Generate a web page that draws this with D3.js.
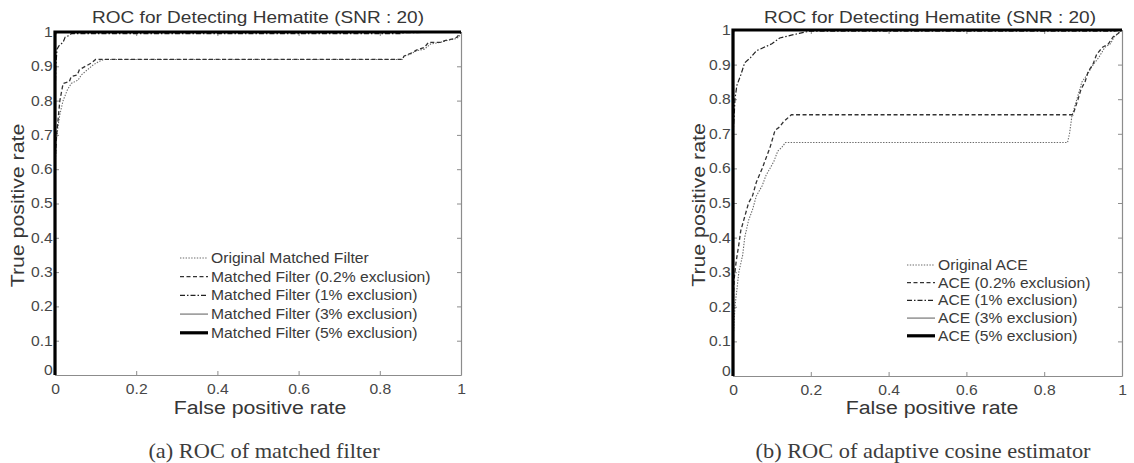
<!DOCTYPE html>
<html>
<head>
<meta charset="utf-8">
<script src="https://cdn.jsdelivr.net/npm/d3@7"></script>
<style>
  body { margin: 0; background: #fff; }
  svg { display: block; font-family: "Liberation Sans", Arial, sans-serif; }
</style>
</head>
<body>
<svg id="chart" width="1134" height="463"></svg>
<script>
// ---- data (fpr, tpr) ----
const xTicks = [0, 0.2, 0.4, 0.6, 0.8, 1];
const yTicks = [0, 0.1, 0.2, 0.3, 0.4, 0.5, 0.6, 0.7, 0.8, 0.9, 1];
const chartTitle = "ROC for Detecting Hematite (SNR : 20)";

const mfLabels = ["Original Matched Filter", "Matched Filter (0.2% exclusion)", "Matched Filter (1% exclusion)",
                  "Matched Filter (3% exclusion)", "Matched Filter (5% exclusion)"];
const mfOriginal = [[0,0],[0,0.6],[0.003,0.68],[0.008,0.73],[0.012,0.76],[0.02,0.8],[0.03,0.83],[0.04,0.85],[0.057,0.86],
  [0.065,0.875],[0.08,0.89],[0.095,0.905],[0.11,0.915],[0.12,0.92],[0.855,0.92],[0.86,0.93],[0.875,0.935],[0.89,0.945],
  [0.91,0.95],[0.925,0.965],[0.95,0.97],[0.965,0.975],[0.985,0.98],[0.995,0.985],[1,1]];
const mf02 = [[0,0],[0,0.62],[0.004,0.7],[0.008,0.75],[0.012,0.8],[0.02,0.85],[0.035,0.855],[0.04,0.87],[0.055,0.875],
  [0.06,0.89],[0.075,0.9],[0.09,0.91],[0.1,0.92],[0.855,0.92],[0.86,0.93],[0.87,0.935],[0.88,0.94],[0.89,0.947],
  [0.91,0.955],[0.92,0.97],[0.95,0.97],[0.96,0.975],[0.98,0.98],[0.99,0.985],[1,1]];
const mf1 = [[0,0],[0,0.8],[0.002,0.9],[0.005,0.95],[0.01,0.96],[0.02,0.97],[0.025,0.985],[0.035,0.99],[0.04,0.995],
  [0.85,0.995],[0.86,0.998],[1,1]];
const mf3 = [[0,0],[0,0.99],[0.005,1],[1,1]];
const mf5 = [[0,0],[0,1],[1,1]];

const aceLabels = ["Original ACE", "ACE (0.2% exclusion)", "ACE (1% exclusion)", "ACE (3% exclusion)", "ACE (5% exclusion)"];
const aceOriginal = [[0,0],[0,0.1],[0.005,0.2],[0.01,0.25],[0.015,0.3],[0.025,0.35],[0.03,0.4],[0.04,0.45],[0.05,0.48],
  [0.06,0.52],[0.075,0.55],[0.085,0.58],[0.095,0.6],[0.105,0.62],[0.115,0.65],[0.125,0.66],[0.135,0.675],[0.86,0.675],
  [0.865,0.7],[0.871,0.75],[0.884,0.8],[0.897,0.85],[0.91,0.87],[0.926,0.9],[0.94,0.92],[0.956,0.95],[0.97,0.96],
  [0.98,0.98],[0.99,0.99],[1,1]];
const ace02 = [[0,0],[0,0.2],[0.003,0.28],[0.008,0.33],[0.015,0.38],[0.02,0.42],[0.03,0.46],[0.04,0.5],[0.05,0.52],
  [0.06,0.56],[0.075,0.6],[0.085,0.63],[0.095,0.66],[0.108,0.71],[0.12,0.72],[0.13,0.735],[0.14,0.745],[0.15,0.755],
  [0.874,0.755],[0.887,0.8],[0.895,0.83],[0.905,0.85],[0.913,0.88],[0.925,0.9],[0.935,0.93],[0.95,0.95],[0.965,0.96],
  [0.977,0.98],[0.99,0.99],[1,1]];
const ace1 = [[0,0],[0,0.7],[0.003,0.75],[0.005,0.8],[0.01,0.84],[0.02,0.87],[0.03,0.905],[0.045,0.92],[0.06,0.94],
  [0.08,0.95],[0.1,0.96],[0.12,0.977],[0.15,0.985],[0.17,0.99],[0.19,0.995],[0.2,0.997],[0.98,0.997],[1,1]];
const ace3 = [[0,0],[0,0.99],[0.004,1],[1,1]];
const ace5 = [[0,0],[0,1],[1,1]];

// line styles for the five series (original, 0.2%, 1%, 3%, 5%)
const styles = [
  { stroke: "#6a6a6a", width: 1.1, dash: "1.4,1.4" },
  { stroke: "#333", width: 1.3, dash: "4,2.5" },
  { stroke: "#222", width: 1.2, dash: "5,2,1.5,2" },
  { stroke: "#8a8a8a", width: 1.4, dash: null },
  { stroke: "#000", width: 3.2, dash: null }
];

const sx = 1.12;  // the source image is a bit stretched horizontally
const svg = d3.select("#chart");

function stretchedText(g, x, y, str, size, anchor, extra) {
  return g.append("text")
    .attr("transform", `translate(${x},${y}) scale(${sx},1)` + (extra || ""))
    .attr("text-anchor", anchor)
    .attr("font-size", size)
    .attr("fill", "#363636")
    .text(str);
}

function drawPanel(p) {
  let g = svg.append("g");

  let x = d3.scaleLinear().domain([0, 1]).range([p.x0, p.x1]);
  let y = d3.scaleLinear().domain([0, 1]).range([p.yBot, p.yTop]);

  // box with inward ticks, matlab style
  let axisB = g.append("g").attr("transform", `translate(0,${p.yBot})`)
    .call(d3.axisBottom(x).tickValues(xTicks).tickFormat(d3.format("~g")).tickSize(-4).tickSizeOuter(0).tickPadding(9));
  let axisL = g.append("g").attr("transform", `translate(${p.x0},0)`)
    .call(d3.axisLeft(y).tickValues(yTicks).tickFormat(d3.format("~g")).tickSize(-4).tickSizeOuter(0).tickPadding(2));
  g.append("g").attr("transform", `translate(0,${p.yTop})`)
    .call(d3.axisTop(x).tickValues(xTicks).tickFormat("").tickSize(-4).tickSizeOuter(0));
  g.append("g").attr("transform", `translate(${p.x1},0)`)
    .call(d3.axisRight(y).tickValues(yTicks).tickFormat("").tickSize(-4).tickSizeOuter(0));

  g.selectAll(".domain").attr("stroke", "#8c8c8c").attr("stroke-width", 1.2);
  g.selectAll(".tick line").attr("stroke", "#8c8c8c");
  g.selectAll(".tick text")
    .attr("font-family", "'Liberation Sans', Arial, sans-serif")
    .attr("font-size", 14)
    .attr("fill", "#474747")
    .attr("transform", `scale(${sx},1)`);
  axisL.select(".tick text").attr("dy", "-0.05em");

  // curves
  let line = d3.line().x(d => x(d[0])).y(d => y(d[1]));
  p.series.forEach((s, i) => {
    let st = styles[i];
    g.append("path")
      .datum(s)
      .attr("fill", "none")
      .attr("stroke", st.stroke)
      .attr("stroke-width", st.width)
      .attr("stroke-dasharray", st.dash)
      .attr("stroke-linejoin", "miter")
      .attr("d", line);
  });

  // legend
  let lg = g.append("g");
  p.labels.forEach((lab, i) => {
    let st = styles[i];
    let ly = p.legY + i * p.legStep;
    lg.append("line")
      .attr("x1", p.legX).attr("x2", p.legX + 28)
      .attr("y1", ly).attr("y2", ly)
      .attr("stroke", st.stroke)
      .attr("stroke-width", st.width)
      .attr("stroke-dasharray", st.dash);
    stretchedText(lg, p.legX + 31, ly + 5, lab, 14, "start").attr("fill", "#3a3a3a");
  });

  // texts
  stretchedText(g, p.cx, 23, chartTitle, 17, "middle");
  stretchedText(g, p.cx + 2, 414, "False positive rate", 19, "middle");
  g.append("text")
    .attr("transform", `translate(${p.ylabX},${(p.yTop + p.yBot) / 2 + 2}) rotate(-90) scale(${sx},1)`)
    .attr("text-anchor", "middle")
    .attr("font-size", 19)
    .attr("fill", "#363636")
    .text("True positive rate");
  stretchedText(g, p.capX, 458, p.caption, 20, "middle")
    .attr("font-family", "'Liberation Serif', 'Times New Roman', serif")
    .attr("fill", "#3c3c3c");
}

drawPanel({
  x0: 55, x1: 461, yTop: 32, yBot: 375,
  cx: 258, ylabX: 24, capX: 264,
  legX: 180, legY: 258, legStep: 18.7,
  series: [mfOriginal, mf02, mf1, mf3, mf5],
  labels: mfLabels,
  caption: "(a) ROC of matched filter"
});

drawPanel({
  x0: 733, x1: 1122, yTop: 30, yBot: 376,
  cx: 930, ylabX: 705, capX: 923,
  legX: 907, legY: 265, legStep: 17.7,
  series: [aceOriginal, ace02, ace1, ace3, ace5],
  labels: aceLabels,
  caption: "(b) ROC of adaptive cosine estimator"
});
</script>
</body>
</html>
